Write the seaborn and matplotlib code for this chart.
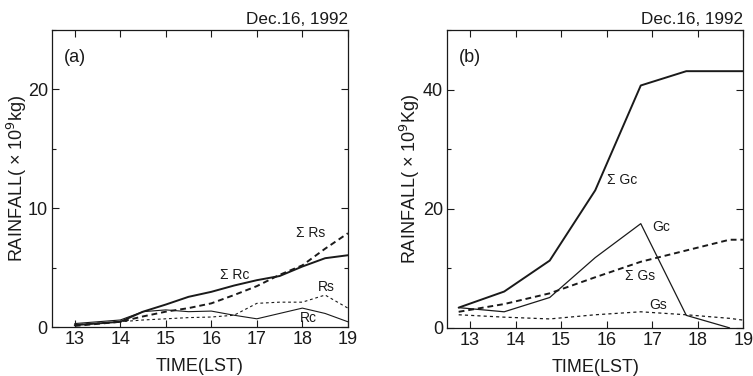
import matplotlib
matplotlib.use("Agg")
import matplotlib.pyplot as plt
import seaborn as sns
import pandas as pd
from matplotlib.ticker import MultipleLocator

sns.set_theme(style="ticks")
plt.rcParams['font.family'] = ['Liberation Sans', 'DejaVu Sans']

# ---- panel (a): rainfall (Rc, Rs) and accumulations ----
t_a = [13.0, 14.0, 14.5, 15.0, 15.5, 16.0, 16.5, 17.0, 17.5, 18.0, 18.5, 19.0]
sum_rc = [0.17, 0.45, 1.3, 1.9, 2.55, 2.97, 3.5, 3.95, 4.3, 5.1, 5.8, 6.05]
sum_rs = [0.1, 0.45, 0.9, 1.3, 1.6, 2.0, 2.7, 3.45, 4.4, 5.2, 6.6, 7.9]
rc = [0.3, 0.6, 1.3, 1.45, 1.3, 1.35, 1.0, 0.7, 1.15, 1.6, 1.15, 0.45]
rs = [0.2, 0.45, 0.6, 0.7, 0.8, 0.85, 1.0, 2.0, 2.1, 2.1, 2.7, 1.6]

# ---- panel (b): graupel (Gc, Gs) and accumulations ----
t_b = [12.75, 13.75, 14.75, 15.75, 16.75, 17.75, 18.7, 19.0]
sum_gc = [3.4, 6.1, 11.3, 23.1, 40.7, 43.1, 43.1, 43.1]
gc = [3.4, 2.7, 5.1, 11.8, 17.5, 2.1, 0.0, None]
sum_gs = [2.7, 4.0, 5.8, 8.5, 11.1, 13.0, 14.8, 14.8]
gs = [2.2, 1.8, 1.5, 2.2, 2.7, 2.2, 1.6, 1.3]

date_text = "Dec.16, 1992"
xlabel = "TIME(LST)"

fig = plt.figure(figsize=(7.53, 3.76), dpi=100)
ax_a = fig.add_axes([0.069, 0.130, 0.393, 0.790])
ax_b = fig.add_axes([0.594, 0.128, 0.393, 0.792])

ink = "#1a1a1a"


def draw(ax, t, y, lw, ls):
    df = pd.DataFrame({"t": t, "y": y}).dropna()
    sns.lineplot(data=df, x="t", y="y", ax=ax, color=ink, lw=lw,
                 linestyle=ls, estimator=None, sort=False)


draw(ax_a, t_a, sum_rc, 1.4, "-")
draw(ax_a, t_a, sum_rs, 1.4, (0, (3, 2)))
draw(ax_a, t_a, rc, 0.8, "-")
draw(ax_a, t_a, rs, 0.8, (0, (2.5, 2.5)))

draw(ax_b, t_b, sum_gc, 1.4, "-")
draw(ax_b, t_b, gc, 0.9, "-")
draw(ax_b, t_b, sum_gs, 1.4, (0, (3, 2)))
draw(ax_b, t_b, gs, 0.9, (0, (2.5, 2.5)))

for ax, ymax, major, minor, ylab, tag, ylab_x in [
        (ax_a, 25, 10, 5, "RAINFALL( \u00d7 10$^9$kg)", "(a)", -0.076),
        (ax_b, 50, 20, 10, "RAINFALL( \u00d7 10$^9$Kg)", "(b)", -0.084)]:
    ax.set_xlim(12.5, 19)
    ax.set_ylim(0, ymax)
    ax.xaxis.set_major_locator(MultipleLocator(1))
    ax.yaxis.set_major_locator(MultipleLocator(major))
    ax.yaxis.set_minor_locator(MultipleLocator(minor))
    ax.tick_params(which="both", direction="in", top=True, right=True,
                   labelsize=13, color=ink, labelcolor=ink, pad=3)
    ax.tick_params(which="major", length=5, width=0.8)
    ax.tick_params(which="minor", length=3, width=0.8)
    for s in ax.spines.values():
        s.set_linewidth(0.9)
        s.set_color(ink)
    ax.set_xlabel(xlabel, fontsize=13, color=ink, labelpad=7)
    ax.set_ylabel(ylab, fontsize=13, color=ink)
    ax.yaxis.set_label_coords(ylab_x, 0.5)
    ax.text(0.04, 0.935, tag, transform=ax.transAxes, fontsize=13,
            color=ink, va="top", ha="left")
    ax.text(1.0, 1.01, date_text, transform=ax.transAxes, fontsize=12.3,
            color=ink, va="bottom", ha="right")

fs = 10
ax_a.text(17.85, 7.9, "\u03a3 Rs", fontsize=fs, color=ink, va="center")
ax_a.text(16.2, 4.4, "\u03a3 Rc", fontsize=fs, color=ink, va="center")
ax_a.text(18.33, 3.4, "Rs", fontsize=fs, color=ink, va="center")
ax_a.text(17.95, 0.75, "Rc", fontsize=fs, color=ink, va="center")

ax_b.text(16.0, 24.9, "\u03a3 Gc", fontsize=fs, color=ink, va="center")
ax_b.text(17.0, 17.0, "Gc", fontsize=fs, color=ink, va="center")
ax_b.text(16.4, 8.7, "\u03a3 Gs", fontsize=fs, color=ink, va="center")
ax_b.text(16.94, 3.9, "Gs", fontsize=fs, color=ink, va="center")

fig.savefig("out.png", dpi=100)
